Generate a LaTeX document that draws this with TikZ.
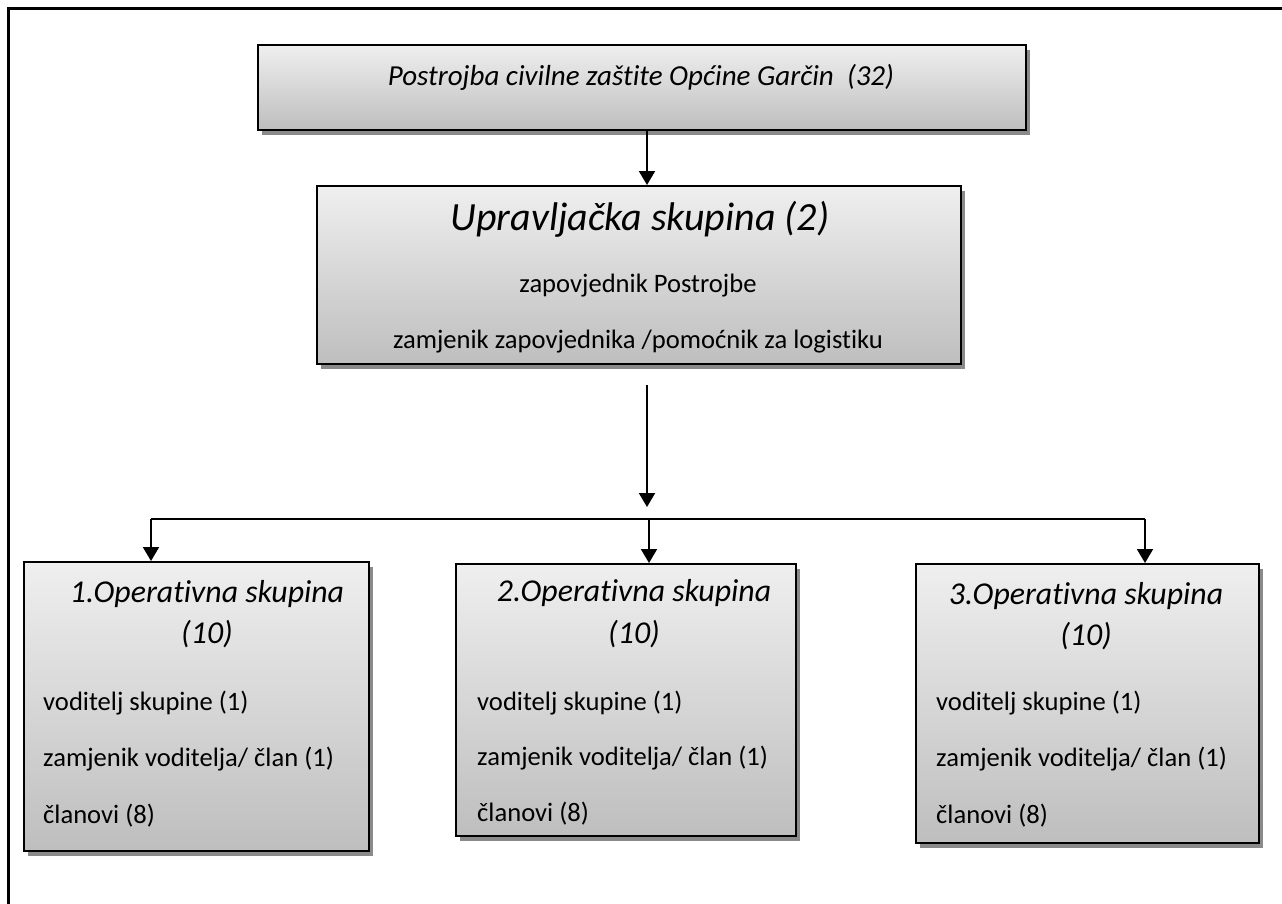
\documentclass[tikz,border=0pt]{standalone}
\usepackage{fontspec}
\setmainfont[Ligatures=NoCommon]{Carlito}
\usetikzlibrary{arrows.meta,shadows}
\definecolor{boxtop}{HTML}{EFEFEF}
\definecolor{boxbot}{HTML}{BEBEBE}
\definecolor{shadowgray}{HTML}{8A8A8A}
\begin{document}
\begin{tikzpicture}[x=1pt,y=-1pt,
  orgbox/.style={draw=black,line width=2pt,top color=boxtop,bottom color=boxbot,
    anchor=north west,inner sep=0pt,
    drop shadow={shadow xshift=4pt,shadow yshift=-5pt,fill=shadowgray,opacity=1}},
  conn/.style={line width=2pt,draw=black},
  arr/.style={conn,-{Triangle[width=16pt,length=14pt]}},
  bodytxt/.style={inner sep=0pt,font=\fontsize{26.6}{30}\selectfont},
  headtxt/.style={inner sep=0pt,anchor=base,font=\fontsize{31.8}{36}\selectfont\itshape},
  toptxt/.style={inner sep=0pt,anchor=base,font=\fontsize{29}{33}\selectfont\itshape},
  bigtxt/.style={inner sep=0pt,anchor=base,font=\fontsize{40}{45}\selectfont\itshape},
  frame/.style={line width=3pt,draw=black}]
\useasboundingbox (0,0) rectangle (1282,903);
\fill[white] (0,0) rectangle (1282,903);
\draw[frame] (8,920) -- (8,8) -- (1300,8);

% boxes
\node[orgbox,minimum width=768pt,minimum height=85pt] (top) at (257,44) {};
\node[orgbox,minimum width=644pt,minimum height=178pt] (mid) at (316,185) {};
\node[orgbox,minimum width=345pt,minimum height=289pt] (b1) at (23,561) {};
\node[orgbox,minimum width=340pt,minimum height=272pt] (b2) at (455,563) {};
\node[orgbox,minimum width=343pt,minimum height=279pt] (b3) at (915,563) {};

% texts
\node[toptxt] (ttop) at (641,85) {Postrojba civilne zaštite Općine Garčin\ \ (32)};
\node[bigtxt] (tmid1) at (640,230) {Upravljačka skupina (2)};
\node[bodytxt,anchor=base] (tmid2) at (638,292) {zapovjednik Postrojbe};
\node[bodytxt,anchor=base] (tmid3) at (638,348) {zamjenik zapovjednika /pomoćnik za logistiku};

\node[headtxt] (h1a) at (207,602) {1.Operativna skupina};
\node[headtxt] (h1b) at (207,643) {(10)};
\node[bodytxt,anchor=base west] (l1a) at (43,710) {voditelj skupine (1)};
\node[bodytxt,anchor=base west] (l1b) at (43,766) {zamjenik voditelja/ član (1)};
\node[bodytxt,anchor=base west] (l1c) at (43,823) {članovi (8)};

\node[headtxt] (h2a) at (634,601) {2.Operativna skupina};
\node[headtxt] (h2b) at (634,643) {(10)};
\node[bodytxt,anchor=base west] (l2a) at (477,710) {voditelj skupine (1)};
\node[bodytxt,anchor=base west] (l2b) at (477,765) {zamjenik voditelja/ član (1)};
\node[bodytxt,anchor=base west] (l2c) at (477,821) {članovi (8)};

\node[headtxt] (h3a) at (1086,604) {3.Operativna skupina};
\node[headtxt] (h3b) at (1086,645) {(10)};
\node[bodytxt,anchor=base west] (l3a) at (936,710) {voditelj skupine (1)};
\node[bodytxt,anchor=base west] (l3b) at (936,766) {zamjenik voditelja/ član (1)};
\node[bodytxt,anchor=base west] (l3c) at (936,823) {članovi (8)};

% connectors
\coordinate (ax) at (647,0);
\draw[arr] (top.south -| ax) -- (mid.north -| ax);
\coordinate (m1) at (647,385);
\coordinate (m2) at (647,507);
\draw[arr] (m1) -- (m2);
\coordinate (hl) at (151,519);
\coordinate (hm) at (649,519);
\coordinate (hr) at (1145,519);
\draw[conn] (hl) -- (hr);
\draw[arr] (hl) -- (b1.north -| hl);
\draw[arr] (hm) -- (b2.north -| hm);
\draw[arr] (hr) -- (b3.north -| hr);
\end{tikzpicture}
\end{document}
